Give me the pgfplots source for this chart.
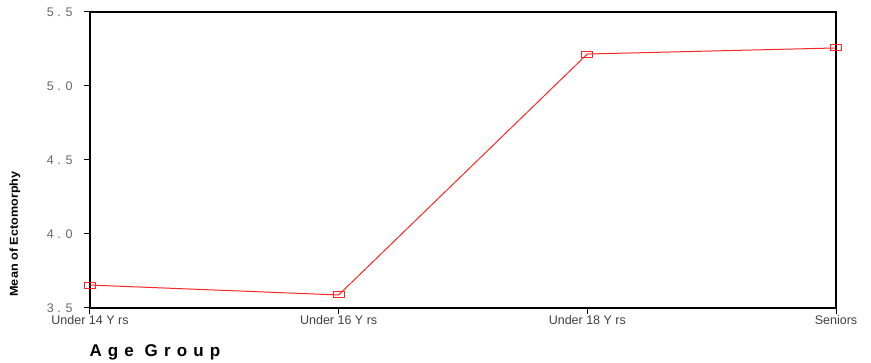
\documentclass[border=0pt]{standalone}
\usepackage{pgfplots}
\pgfplotsset{compat=1.18}
\usepackage{fontspec}
\setmainfont{Liberation Sans}
\newfontfamily\spaced[LetterSpace=36]{Liberation Sans}
\begin{document}
\begin{tikzpicture}[x=1pt,y=1pt]
\useasboundingbox (-90pt,-55pt) rectangle (781pt,308pt);
\begin{axis}[
  at={(0pt,0pt)}, anchor=south west,
  scale only axis,
  width=746pt, height=296pt,
  xmin=0, xmax=3, ymin=3.5, ymax=5.5,
  xtick={0,1,2,3},
  xticklabels={Under 14 Y rs, Under 16 Y rs, Under 18 Y rs, Seniors},
  ytick={3.5,4.0,4.5,5.0,5.5},
  yticklabels={3 . 5, 4 . 0, 4 . 5, 5 . 0, 5 . 5},
  tick align=outside,
  tick pos=left,
  major tick length=6pt,
  tick style={black, line width=1pt},
  axis line style={black, line width=1.3pt},
  xticklabel style={font=\fontsize{12.5}{13}\selectfont, text=black!75, yshift=2pt},
  yticklabel style={font=\fontsize{12.5}{13}\selectfont, text=black!60, xshift=-8pt},
  clip=false,
]
\addplot[color=red!85, line width=1pt, mark=square, mark size=4pt,
  mark options={draw=red!85, fill=red!10, xscale=1.4, yscale=0.75, line width=1pt}]
  coordinates {(0,3.655) (1,3.588) (2,5.216) (3,5.257)};
\end{axis}
\node[anchor=west, font=\spaced\bfseries\fontsize{17}{18}\selectfont] at (-4pt,-44pt) {Age Group};
\node[rotate=90, font=\bfseries\fontsize{11.5}{12}\selectfont, xscale=1.1] at (-75pt,74pt) {Mean of Ectomorphy};
\end{tikzpicture}
\end{document}
